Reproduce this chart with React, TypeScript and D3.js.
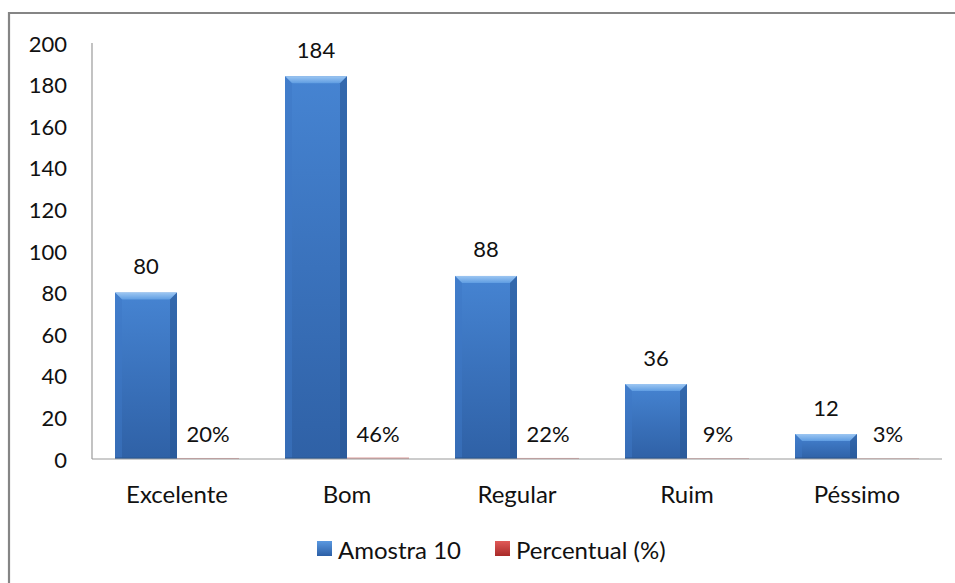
import React from "react";
import * as d3 from "d3";

// Survey results: counts per rating and their share of the total
const categories = ["Excelente", "Bom", "Regular", "Ruim", "Péssimo"];
const amostra = [80, 184, 88, 36, 12];
const percentual = [20, 46, 22, 9, 3];
const yTicks = [0, 20, 40, 60, 80, 100, 120, 140, 160, 180, 200];
const seriesNames = ["Amostra 10", "Percentual (%)"];

const W = 955;
const H = 583;
const plot = { left: 92, right: 942, top: 43, bottom: 459 };
const FONT = "Lato, 'Open Sans', sans-serif";
const NUM_SIZE = 22;
const LABEL_SIZE = 24;

export default function App() {
  const x = d3
    .scaleBand<string>()
    .domain(categories)
    .range([plot.left, plot.right])
    .paddingInner(0)
    .paddingOuter(0);
  const y = d3.scaleLinear().domain([0, 200]).range([plot.bottom, plot.top]);
  const barW = 62;
  const bev = 7;

  const blueBar = (cx: number, v: number, key: string) => {
    const x0 = cx - barW;
    const x1 = cx;
    const top = y(v);
    const bot = y(0);
    const h = bot - top;
    const b = Math.min(bev, h / 2);
    return (
      <g key={key}>
        <rect x={x0} y={top} width={barW} height={h} fill="url(#blueBody)" />
        {/* bevel: light top edge, darker sides */}
        <polygon
          points={`${x0},${top} ${x1},${top} ${x1 - b},${top + b} ${x0 + b},${top + b}`}
          fill="url(#blueTop)"
        />
        <polygon
          points={`${x0},${top} ${x0 + b},${top + b} ${x0 + b},${bot} ${x0},${bot}`}
          fill="#3d78c6"
          opacity={0.5}
        />
        <polygon
          points={`${x1},${top} ${x1 - b},${top + b} ${x1 - b},${bot} ${x1},${bot}`}
          fill="#285795"
          opacity={0.6}
        />
        <rect x={x0} y={bot - 2} width={barW} height={2} fill="#2a5896" opacity={0.6} />
      </g>
    );
  };

  return (
    <svg
      width={W}
      height={H}
      style={{ position: "absolute", left: 0, top: 0 }}
      fontFamily={FONT}
    >
      <defs>
        <linearGradient id="blueBody" x1="0" y1="0" x2="0" y2="1">
          <stop offset="0" stopColor="#4684d2" />
          <stop offset="0.5" stopColor="#3a72bc" />
          <stop offset="1" stopColor="#2f61a6" />
        </linearGradient>
        <linearGradient id="blueTop" x1="0" y1="0" x2="0" y2="1">
          <stop offset="0" stopColor="#9cc6f2" />
          <stop offset="1" stopColor="#5f9de2" />
        </linearGradient>
        <linearGradient id="redBox" x1="0" y1="0" x2="0" y2="1">
          <stop offset="0" stopColor="#e05a58" />
          <stop offset="1" stopColor="#a82a28" />
        </linearGradient>
        <linearGradient id="blueBox" x1="0" y1="0" x2="0" y2="1">
          <stop offset="0" stopColor="#5a98e0" />
          <stop offset="1" stopColor="#2c5fa6" />
        </linearGradient>
      </defs>
      <rect x={0} y={0} width={W} height={H} fill="#ffffff" />
      {/* outer frame (open on the right and bottom) */}
      <path d={`M9,${H} L9,13 L${W},13`} fill="none" stroke="#858585" strokeWidth={2.2} />

      {/* value axis */}
      <line x1={plot.left} x2={plot.left} y1={plot.top} y2={plot.bottom} stroke="#9a9a9a" strokeWidth={1.2} />
      {yTicks.map((t) => (
        <text
          key={t}
          x={67}
          y={y(t)}
          textAnchor="end"
          dominantBaseline="central"
          fontSize={NUM_SIZE}
          fill="#111"
        >
          {t}
        </text>
      ))}

      {/* bars */}
      {categories.map((c, i) => {
        const cx = (x(c) as number) + x.bandwidth() / 2;
        const redH = y(0) - y(percentual[i] / 100);
        return (
          <g key={c}>
            {blueBar(cx, amostra[i], "b" + c)}
            <rect x={cx} y={y(0) - redH - 0.6} width={barW} height={redH + 0.6} fill="#c0504d" opacity={0.5} />
            <text
              x={cx - barW / 2}
              y={y(amostra[i]) - 27}
              textAnchor="middle"
              dominantBaseline="central"
              fontSize={NUM_SIZE}
              fill="#111"
            >
              {amostra[i]}
            </text>
            <text
              x={cx + barW / 2}
              y={y(0) - 26}
              textAnchor="middle"
              dominantBaseline="central"
              fontSize={NUM_SIZE}
              fill="#111"
            >
              {percentual[i] + "%"}
            </text>
            <text
              x={cx}
              y={493}
              textAnchor="middle"
              dominantBaseline="central"
              fontSize={LABEL_SIZE}
              fill="#111"
            >
              {c}
            </text>
          </g>
        );
      })}

      {/* category axis */}
      <line x1={plot.left} x2={plot.right} y1={plot.bottom} y2={plot.bottom} stroke="#9a9a9a" strokeWidth={1.2} />

      {/* legend */}
      <rect x={317} y={541} width={15} height={15} fill="url(#blueBox)" />
      <text x={338} y={549} dominantBaseline="central" fontSize={LABEL_SIZE} fill="#111">
        {seriesNames[0]}
      </text>
      <rect x={495} y={541} width={15} height={15} fill="url(#redBox)" />
      <text x={516} y={549} dominantBaseline="central" fontSize={LABEL_SIZE} fill="#111">
        {seriesNames[1]}
      </text>
    </svg>
  );
}
